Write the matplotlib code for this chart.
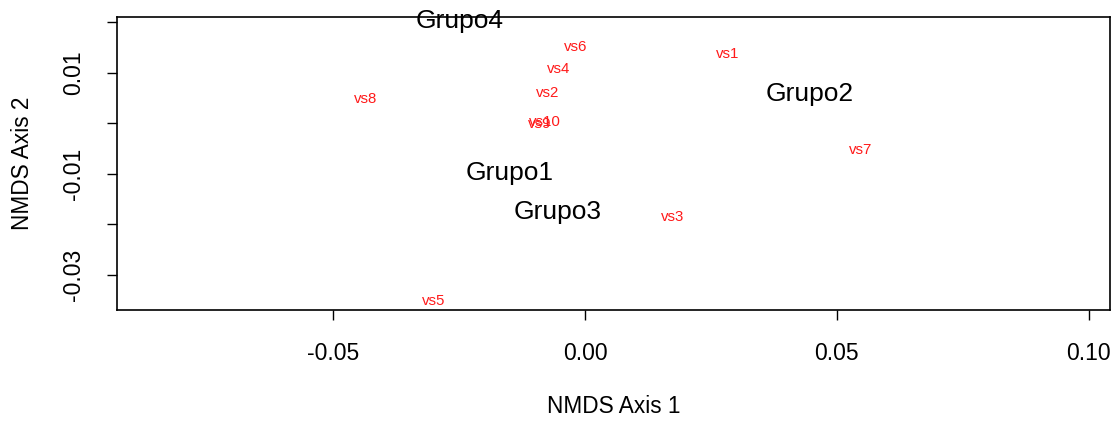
import matplotlib.pyplot as plt

plt.rcParams['font.family'] = ['Liberation Sans', 'DejaVu Sans']

# puntos (especies)
sp_names = ['vs1', 'vs2', 'vs3', 'vs4', 'vs5', 'vs6', 'vs7', 'vs8', 'vs9', 'vs10']
sp_x = [0.0284, -0.0075, 0.0173, -0.0052, -0.0300, -0.0018, 0.0548, -0.0435, -0.0089, -0.0079]
sp_y = [0.0139, 0.0063, -0.0182, 0.0111, -0.0349, 0.0154, -0.0050, 0.0050, 0.0002, 0.0006]

# grupos
grp_names = ['Grupo1', 'Grupo2', 'Grupo3', 'Grupo4']
grp_x = [-0.0149, 0.0446, -0.0054, -0.0248]
grp_y = [-0.0093, 0.0063, -0.0172, 0.0208]

xticks = [-0.05, 0.00, 0.05, 0.10]
xticklabels = ['-0.05', '0.00', '0.05', '0.10']
yticks = [-0.03, -0.02, -0.01, 0.00, 0.01, 0.02]
yticklabels = ['-0.03', '', '-0.01', '', '0.01', '']

fig = plt.figure(figsize=(11.15, 4.25), dpi=100)
ax = fig.add_axes([0.1049, 0.2706, 0.8906, 0.6894])

for n, x, y in zip(grp_names, grp_x, grp_y):
    ax.text(x, y, n, fontsize=19, color='black', ha='center', va='center_baseline')
for n, x, y in zip(sp_names, sp_x, sp_y):
    ax.text(x, y, n, fontsize=10.8, color='#ff1a1a', ha='center', va='center_baseline')

ax.set_xlim(-0.0929, 0.1042)
ax.set_ylim(-0.0370, 0.0210)
ax.set_xticks(xticks)
ax.set_xticklabels(xticklabels)
ax.set_yticks(yticks)
ax.set_yticklabels(yticklabels, rotation=90, va='center')
ax.tick_params(axis='both', labelsize=16.5, length=7, width=1)
ax.tick_params(axis='x', pad=16)
ax.tick_params(axis='y', pad=16)
for s in ax.spines.values():
    s.set_linewidth(1.2)

ax.set_xlabel('NMDS Axis 1', fontsize=16.3, labelpad=22)
ax.set_ylabel('NMDS Axis 2', fontsize=16.3, labelpad=20)

plt.savefig('out.png', dpi=100)
